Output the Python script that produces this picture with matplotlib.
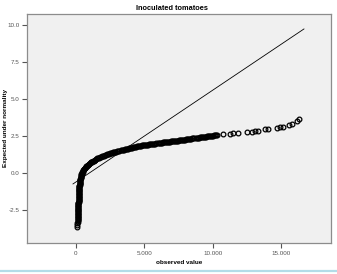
import matplotlib
matplotlib.use('Agg')
import matplotlib.pyplot as plt
from matplotlib.lines import Line2D
from matplotlib.ticker import FuncFormatter

# DATA

# observed values and their expected normal scores
observed = [95, 100, 105, 110,
            115, 118, 120, 122, 125, 128, 130, 134, 138, 141, 145, 148,
            150, 153, 155, 158, 162, 165, 168, 170, 172, 175, 177, 180,
            182, 184, 186, 188, 190, 193, 195, 198, 200, 203, 205, 207,
            209, 211, 213, 216, 218, 221, 225, 230, 235, 240, 245, 251,
            258, 265, 272, 280, 288, 296, 305, 313, 322, 331, 340, 352,
            365, 380, 395, 412, 430, 452, 475, 502, 530, 565,
            600, 640, 680, 720, 760, 805, 850, 895, 940, 985, 1030, 1080,
            1130, 1185, 1240, 1300, 1360, 1420, 1480, 1540,
            1600, 1670, 1740, 1810, 1880, 1955, 2030, 2105, 2180, 2260,
            2340, 2420, 2500, 2575, 2650, 2725, 2800, 2875, 2950, 3025,
            3100, 3175, 3250, 3325, 3400, 3475, 3550, 3625, 3700, 3775,
            3850, 3925, 4000, 4075, 4150, 4225, 4300, 4375, 4450, 4525,
            4600, 4675, 4750, 4825, 4900, 4975, 5050, 5125, 5200, 5275,
            5350, 5425, 5500, 5575, 5650, 5725, 5800, 5875, 5950, 6025,
            6100, 6175, 6250, 6325, 6400, 6475, 6550, 6625, 6700, 6775,
            6850, 6925, 7000, 7075, 7150, 7225, 7300, 7375, 7450, 7525,
            7600, 7675, 7750, 7825, 7900, 7975, 8050, 8125, 8200, 8275,
            8350, 8425, 8500, 8575, 8650, 8725, 8800, 8875, 8950, 9025,
            9100, 9175, 9250, 9325, 9400, 9475, 9550, 9625, 9700, 9775,
            9850, 9925, 10000, 10075, 10150, 10225, 10300,
            10730, 11240, 11460, 11830, 12480, 12850, 13070, 13290, 13800,
            14020, 14670, 14890, 15110, 15550, 15770, 16130, 16280]
expected = [-3.62, -3.50, -3.40, -3.30,
            -3.20, -3.15, -3.10, -3.05, -3.00, -2.95, -2.90, -2.85, -2.80, -2.75, -2.70, -2.65,
            -2.60, -2.55, -2.50, -2.45, -2.40, -2.35, -2.30, -2.25, -2.20, -2.15, -2.10, -2.05,
            -2.00, -1.95, -1.90, -1.85, -1.80, -1.75, -1.70, -1.65, -1.60, -1.55, -1.50, -1.45,
            -1.40, -1.35, -1.30, -1.25, -1.20, -1.15, -1.10, -1.05, -1.00, -0.95, -0.90, -0.85,
            -0.80, -0.75, -0.70, -0.65, -0.60, -0.55, -0.50, -0.45, -0.40, -0.35, -0.30, -0.25,
            -0.20, -0.15, -0.10, -0.05, 0.00, 0.05, 0.10, 0.15, 0.20, 0.24,
            0.28, 0.32, 0.36, 0.40, 0.44, 0.48, 0.52, 0.56, 0.60, 0.64, 0.68, 0.71,
            0.74, 0.77, 0.80, 0.84, 0.87, 0.91, 0.94, 0.98,
            1.01, 1.04, 1.07, 1.10, 1.12, 1.15, 1.18, 1.21, 1.23, 1.26,
            1.28, 1.30, 1.32, 1.35, 1.37, 1.39, 1.41, 1.43, 1.45, 1.47,
            1.49, 1.51, 1.53, 1.55, 1.56, 1.58, 1.60, 1.62, 1.63, 1.65,
            1.67, 1.69, 1.70, 1.72, 1.73, 1.75, 1.76, 1.78, 1.79, 1.81,
            1.82, 1.84, 1.85, 1.86, 1.87, 1.88, 1.89, 1.90, 1.91, 1.92,
            1.93, 1.94, 1.95, 1.96, 1.97, 1.98, 1.99, 2.00, 2.01, 2.02,
            2.03, 2.04, 2.05, 2.06, 2.07, 2.08, 2.08, 2.09, 2.10, 2.11,
            2.12, 2.13, 2.14, 2.15, 2.16, 2.17, 2.18, 2.19, 2.19, 2.20,
            2.21, 2.22, 2.23, 2.24, 2.25, 2.26, 2.27, 2.28, 2.29, 2.30,
            2.31, 2.32, 2.33, 2.34, 2.35, 2.36, 2.37, 2.38, 2.39, 2.40,
            2.41, 2.42, 2.43, 2.44, 2.45, 2.46, 2.47, 2.48, 2.49, 2.50,
            2.51, 2.52, 2.53, 2.54, 2.55, 2.56, 2.57,
            2.64, 2.64, 2.70, 2.70, 2.77, 2.79, 2.84, 2.87, 2.94,
            2.97, 3.07, 3.11, 3.14, 3.24, 3.31, 3.51, 3.65]

# reference line under normality (end points)
line_x = [-219, 16642]
line_y = [-0.74, 9.73]

x_ticks = [0, 5000, 10000, 15000]
y_ticks = [-2.5, 0.0, 2.5, 5.0, 7.5, 10.0]

title = 'Inoculated tomatoes'
x_label = 'observed value'
y_label = 'Expected under normality'

# PLOTTING

plt.rcParams['font.family'] = ['Liberation Sans', 'DejaVu Sans']

fig = plt.figure(figsize=(3.37, 2.74), dpi=100)
ax = fig.add_axes([0.0801, 0.1131, 0.902, 0.8358])
ax.set_facecolor('#f0f0f0')

ax.plot(line_x, line_y, color='black', linewidth=0.6, zorder=2)
ax.plot(observed, expected, linestyle='none', marker='o', markersize=3.4,
        markerfacecolor='none', markeredgecolor='black', markeredgewidth=0.9,
        zorder=3)

ax.set_xlim(-3577, 18613)
ax.set_ylim(-4.73, 10.74)
ax.set_xticks(x_ticks)
ax.set_yticks(y_ticks)

# thousands with a dot, as in the original
ax.xaxis.set_major_formatter(FuncFormatter(lambda v, p: '{:,.0f}'.format(v).replace(',', '.')))
ax.yaxis.set_major_formatter(FuncFormatter(lambda v, p: '{:.1f}'.format(v)))

ax.tick_params(axis='both', direction='out', length=3.5, width=0.8,
               color='#555555', labelsize=4.5, labelcolor='#555555', pad=2)
for side in ax.spines.values():
    side.set_color('#8c8c8c')
    side.set_linewidth(0.9)

fig.text(172 / 337, 1 - 8 / 274, title, ha='center', va='center',
         fontsize=5.3, fontweight='bold')
fig.text(179 / 337, 1 - 262 / 274, x_label, ha='center', va='center',
         fontsize=4.6, fontweight='bold')
fig.text(6 / 337, 1 - 128 / 274, y_label, ha='center', va='center',
         rotation=90, fontsize=4.6, fontweight='bold')

# light blue rule at the bottom of the figure
fig.add_artist(Line2D([0, 1], [1 - 271 / 274, 1 - 271 / 274], transform=fig.transFigure,
                      color='#b3dce8', linewidth=1.6))

fig.savefig('out.png', dpi=100)
